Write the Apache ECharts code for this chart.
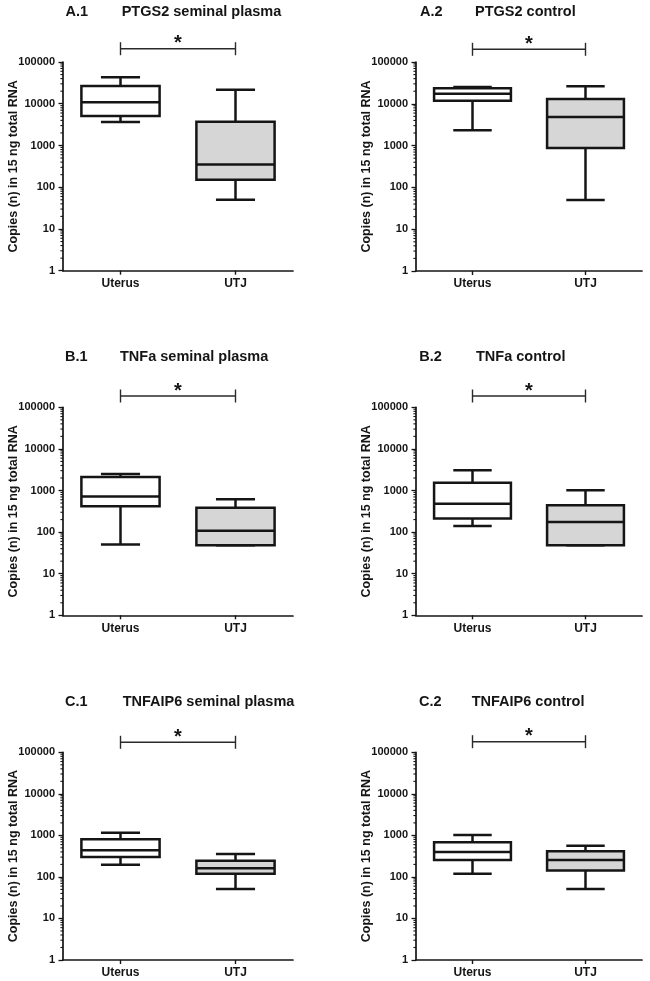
<!DOCTYPE html>
<html>
<head>
<meta charset="utf-8">
<script src="https://cdn.jsdelivr.net/npm/echarts@6/dist/echarts.min.js"></script>
<style>
  html, body { margin: 0; padding: 0; background: #ffffff; }
  #chart { width: 650px; height: 981px; }
</style>
</head>
<body>
<div id="chart"></div>
<script>
// ---------------- DATA ----------------
const panelLabels = ['A.1', 'A.2', 'B.1', 'B.2', 'C.1', 'C.2'];
const panelNames = ['PTGS2 seminal plasma', 'PTGS2 control', 'TNFa seminal plasma', 'TNFa control', 'TNFAIP6 seminal plasma', 'TNFAIP6 control'];
const categories = ['Uterus', 'UTJ'];
// each entry: [min, Q1, median, Q3, max]
const uterusStats = [
  [3640, 5070, 10800, 26500, 43000],
  [2320, 11900, 17500, 23400, 25200],
  [50, 417, 713, 2110, 2500],
  [140, 211, 483, 1545, 3060],
  [197, 302, 437, 804, 1164],
  [120, 256, 398, 681, 1023]
];
const utjStats = [
  [50, 151, 352, 3700, 21700],
  [50, 877, 4830, 13000, 26200],
  [48, 48, 108, 387, 614],
  [48, 48, 175, 441, 1010],
  [51, 120, 161, 246, 356],
  [51, 142, 256, 413, 566]
];
const significance = ['*', '*', '*', '*', '*', '*'];
const yAxisName = 'Copies (n) in 15 ng total RNA';
const yTickLabels = ['1', '10', '100', '1000', '10000', '100000'];
const yMin = 1, yMax = 100000;
const minorDecades = [1, 10, 100, 1000, 10000];
const minorMultipliers = [2, 3, 4, 5, 6, 7, 8, 9];

// ---------------- LAYOUT / STYLE ----------------
const gridBoxes = [
  { left: 63, top: 62, width: 230, height: 208.7 },
  { left: 416, top: 62, width: 226, height: 209 },
  { left: 63, top: 407.3, width: 230, height: 208 },
  { left: 416, top: 407.3, width: 226, height: 208 },
  { left: 63, top: 752.3, width: 230, height: 207.7 },
  { left: 416, top: 752.3, width: 226, height: 207.7 }
];
const bracketOffsets = [13.3, 12.7, 11.3, 11.3, 10, 10.6];
const titleTops = [4.5, 4.5, 349, 349, 694.5, 694];
const labelLefts = [65.5, 420, 65, 419.3, 65, 419];
const nameLefts = [121.7, 475, 120, 476, 122.7, 471.7];
const boxFills = ['#ffffff', '#d6d6d6'];
const ink = '#151515';
const fontFam = '"Liberation Sans", Arial, Helvetica, sans-serif';

const minorTickValues = [];
minorDecades.forEach(d => minorMultipliers.forEach(m => minorTickValues.push(d * m)));

// ---------------- BUILD ----------------
const grids = [], xAxes = [], yAxes = [], series = [], titles = [];

function renderBox(params, api) {
  const ci = api.value(0);
  const cs = params.coordSys;
  const band = cs.width / categories.length;
  const bw = band * 0.68;
  const vals = [api.value(1), api.value(2), api.value(3), api.value(4), api.value(5)];
  const ys = vals.map(v => api.coord([ci, v])[1]);
  const xc = api.coord([ci, vals[2]])[0];
  const lw = 2.5;
  const st = { stroke: ink, lineWidth: lw, fill: null };
  const cap = bw / 4;
  return {
    type: 'group',
    children: [
      { type: 'line', shape: { x1: xc, y1: ys[4], x2: xc, y2: ys[3] }, style: st },
      { type: 'line', shape: { x1: xc, y1: ys[1], x2: xc, y2: ys[0] }, style: st },
      { type: 'line', shape: { x1: xc - cap, y1: ys[4], x2: xc + cap, y2: ys[4] }, style: st },
      { type: 'line', shape: { x1: xc - cap, y1: ys[0], x2: xc + cap, y2: ys[0] }, style: st },
      { type: 'rect', shape: { x: xc - bw / 2, y: ys[3], width: bw, height: ys[1] - ys[3] },
        style: { fill: boxFills[ci], stroke: ink, lineWidth: lw } },
      { type: 'line', shape: { x1: xc - bw / 2, y1: ys[2], x2: xc + bw / 2, y2: ys[2] }, style: st }
    ]
  };
}

for (let p = 0; p < 6; p++) {
  const g = gridBoxes[p];
  grids.push({ left: g.left, top: g.top, width: g.width, height: g.height, containLabel: false });
  xAxes.push({
    type: 'category', gridIndex: p, data: categories, boundaryGap: true,
    axisLine: { show: true, lineStyle: { color: ink, width: 1.7 } },
    axisTick: { show: true, alignWithLabel: true, length: 4, lineStyle: { color: ink, width: 1.4 } },
    axisLabel: { color: ink, fontSize: 12, fontWeight: 'bold', fontFamily: fontFam, margin: 7 },
    splitLine: { show: false }
  });
  yAxes.push({
    type: 'log', logBase: 10, gridIndex: p, min: yMin, max: yMax,
    name: yAxisName, nameLocation: 'middle', nameGap: 43, nameRotate: 90,
    nameMoveOverlap: false,
    nameTextStyle: { color: ink, fontSize: 12.5, fontWeight: 'bold', fontFamily: fontFam },
    axisLine: { show: true, lineStyle: { color: ink, width: 1.7 } },
    axisTick: { show: true, length: 4.5, lineStyle: { color: ink, width: 1.3 } },
    axisLabel: {
      color: ink, fontSize: 11, fontWeight: 'bold', fontFamily: fontFam, margin: 8,
      formatter: v => yTickLabels[Math.round(Math.log10(v))]
    },
    splitLine: { show: false }, minorTick: { show: false }
  });
  titles.push({
    text: panelLabels[p], left: labelLefts[p], top: titleTops[p], padding: 0,
    textStyle: { color: ink, fontSize: 14.5, fontWeight: 'bold', fontFamily: fontFam }
  });
  titles.push({
    text: panelNames[p], left: nameLefts[p], top: titleTops[p], padding: 0,
    textStyle: { color: ink, fontSize: 14.5, fontWeight: 'bold', fontFamily: fontFam }
  });

  // boxes
  series.push({
    type: 'custom', xAxisIndex: p, yAxisIndex: p, silent: true, clip: false,
    renderItem: renderBox,
    encode: { x: 0, y: [1, 2, 3, 4, 5] },
    data: [[0].concat(uterusStats[p]), [1].concat(utjStats[p])]
  });
  // minor log ticks
  series.push({
    type: 'custom', xAxisIndex: p, yAxisIndex: p, silent: true, clip: false,
    encode: { x: 0, y: 1 },
    renderItem: (params, api) => {
      const cs = params.coordSys;
      const y = api.coord([0, api.value(1)])[1];
      return { type: 'line', shape: { x1: cs.x - 2.6, y1: y, x2: cs.x, y2: y },
        style: { stroke: ink, lineWidth: 1.1 } };
    },
    data: minorTickValues.map(v => [0, v])
  });
  // significance bracket
  const off = bracketOffsets[p];
  const sig = significance[p];
  series.push({
    type: 'custom', xAxisIndex: p, yAxisIndex: p, silent: true, clip: false,
    encode: { x: 0, y: 1 },
    renderItem: (params, api) => {
      const cs = params.coordSys;
      const x1 = api.coord([0, yMax])[0];
      const x2 = api.coord([1, yMax])[0];
      const yb = cs.y - off;
      const st = { stroke: '#2a2a2a', lineWidth: 1.4 };
      return {
        type: 'group',
        children: [
          { type: 'line', shape: { x1: x1, y1: yb, x2: x2, y2: yb }, style: st },
          { type: 'line', shape: { x1: x1, y1: yb - 6.5, x2: x1, y2: yb + 6.5 }, style: st },
          { type: 'line', shape: { x1: x2, y1: yb - 6.5, x2: x2, y2: yb + 6.5 }, style: st },
          { type: 'text', x: (x1 + x2) / 2, y: yb - 5,
            style: { text: sig, fill: ink, fontSize: 20, fontWeight: 'bold', fontFamily: fontFam,
              align: 'center', verticalAlign: 'middle' } }
        ]
      };
    },
    data: [[0, yMax]]
  });
}

const chart = echarts.init(document.getElementById('chart'), null, { renderer: 'canvas' });
chart.setOption({
  animation: false,
  backgroundColor: '#ffffff',
  title: titles,
  grid: grids,
  xAxis: xAxes,
  yAxis: yAxes,
  series: series
});
</script>
</body>
</html>
